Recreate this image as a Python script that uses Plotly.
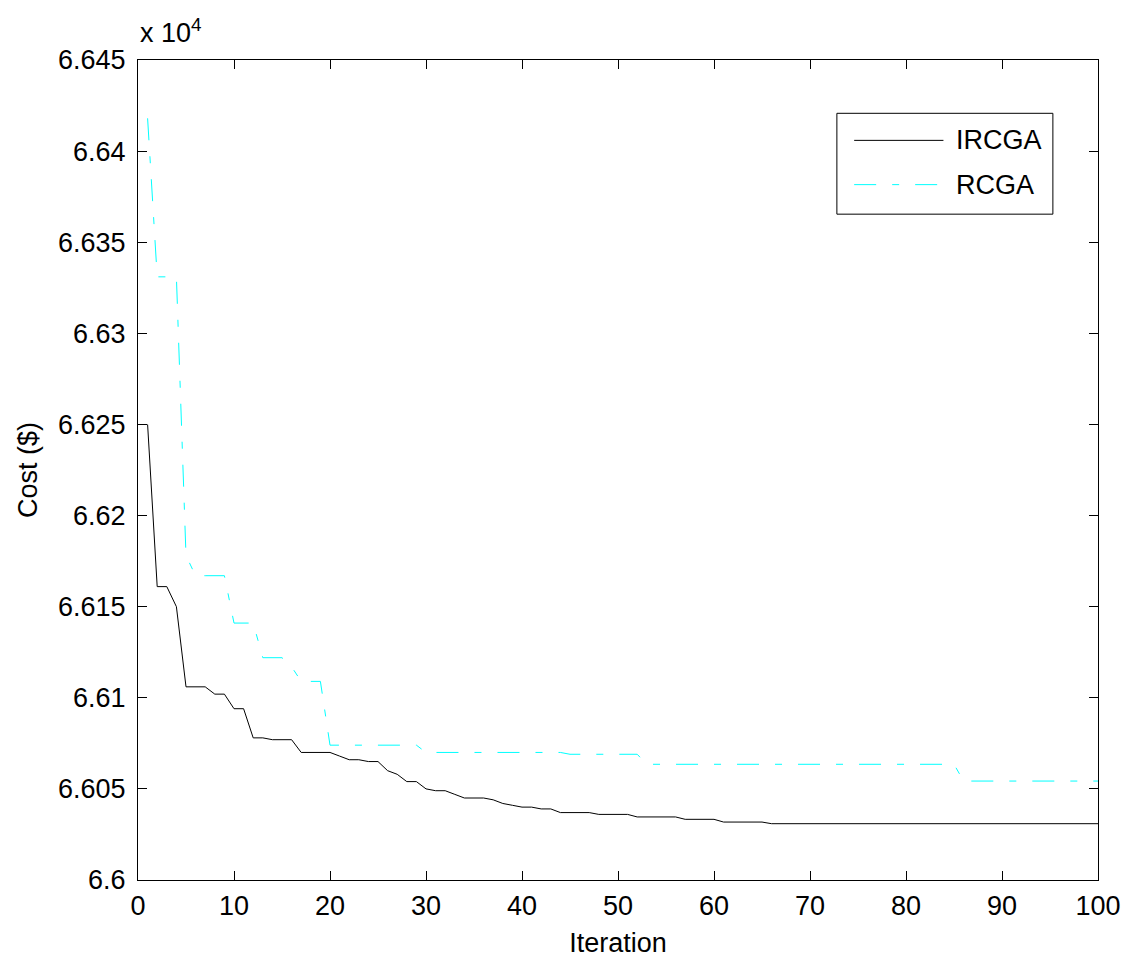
import plotly.graph_objects as go

iterations = list(range(1, 101))

ircga = [
    6.6250, 6.6161, 6.6161, 6.6150, 6.6106, 6.6106, 6.6106, 6.6102, 6.6102, 6.6094,
    6.6094, 6.6078, 6.6078, 6.6077, 6.6077, 6.6077, 6.6070, 6.6070, 6.6070, 6.6070,
    6.6068, 6.6066, 6.6066, 6.6065, 6.6065, 6.6060, 6.6058, 6.6054, 6.6054, 6.6050,
    6.6049, 6.6049, 6.6047, 6.6045, 6.6045, 6.6045, 6.6044, 6.6042, 6.6041, 6.6040,
    6.6040, 6.6039, 6.6039, 6.6037, 6.6037, 6.6037, 6.6037, 6.6036, 6.6036, 6.6036,
    6.6036, 6.60346, 6.60346, 6.60346, 6.60346, 6.60346, 6.60333, 6.60333, 6.60333, 6.60333,
    6.60318, 6.60318, 6.60318, 6.60318, 6.60318, 6.60309, 6.60309, 6.60309, 6.60309, 6.60309,
    6.60309, 6.60309, 6.60309, 6.60309, 6.60309, 6.60309, 6.60309, 6.60309, 6.60309, 6.60309,
    6.60309, 6.60309, 6.60309, 6.60309, 6.60309, 6.60309, 6.60309, 6.60309, 6.60309, 6.60309,
    6.60309, 6.60309, 6.60309, 6.60309, 6.60309, 6.60309, 6.60309, 6.60309, 6.60309, 6.60309,
]

rcga = [
    6.6418, 6.6331, 6.6331, 6.6331, 6.6178, 6.6167, 6.6167, 6.6167, 6.6167, 6.6141,
    6.6141, 6.6141, 6.6122, 6.6122, 6.6122, 6.6117, 6.6109, 6.6109, 6.6109, 6.6074,
    6.6074, 6.6074, 6.6074, 6.6074, 6.6074, 6.6074, 6.6074, 6.6074, 6.6074, 6.6070,
    6.6070, 6.6070, 6.6070, 6.6070, 6.6070, 6.6070, 6.6070, 6.6070, 6.6070, 6.6070,
    6.6070, 6.6070, 6.6070, 6.6070, 6.6069, 6.6069, 6.6069, 6.6069, 6.6069, 6.6069,
    6.6069, 6.6069, 6.60635, 6.60635, 6.60635, 6.60635, 6.60635, 6.60635, 6.60635, 6.60635,
    6.60635, 6.60635, 6.60635, 6.60635, 6.60635, 6.60635, 6.60635, 6.60635, 6.60635, 6.60635,
    6.60635, 6.60635, 6.60635, 6.60635, 6.60635, 6.60635, 6.60635, 6.60635, 6.60635, 6.60635,
    6.60635, 6.60635, 6.60635, 6.60635, 6.60635, 6.60543, 6.60543, 6.60543, 6.60543, 6.60543,
    6.60543, 6.60543, 6.60543, 6.60543, 6.60543, 6.60543, 6.60543, 6.60543, 6.60543, 6.60543,
]

y_tickvals = [6.6, 6.605, 6.61, 6.615, 6.62, 6.625, 6.63, 6.635, 6.64, 6.645]
y_ticktext = ["6.6", "6.605", "6.61", "6.615", "6.62", "6.625", "6.63", "6.635", "6.64", "6.645"]
x_tickvals = [0, 10, 20, 30, 40, 50, 60, 70, 80, 90, 100]

FONT = "Liberation Sans, Arial, Helvetica, sans-serif"
FS = 27
DASHDOT = "22px,16px,7px,16px"

fig = go.Figure()
fig.add_trace(go.Scatter(x=iterations, y=ircga, mode="lines", name="IRCGA",
                         line=dict(color="black", width=1)))
fig.add_trace(go.Scatter(x=iterations, y=rcga, mode="lines", name="RCGA",
                         line=dict(color="#00FFFF", width=1, dash=DASHDOT)))

axis_common = dict(showline=True, linecolor="black", linewidth=1, mirror="allticks",
                   ticks="inside", ticklen=9, tickcolor="black", tickwidth=1,
                   showgrid=False, zeroline=False, automargin=False,
                   tickfont=dict(family=FONT, size=FS, color="black"))

fig.update_xaxes(range=[0, 100], tickvals=x_tickvals, **axis_common,
                 ticklabelstandoff=2,
                 title=dict(text="Iteration", font=dict(family=FONT, size=FS, color="black"), standoff=12))
fig.update_yaxes(range=[6.6, 6.645], tickvals=y_tickvals, ticktext=y_ticktext, **axis_common,
                 ticklabelstandoff=6,
                 title=dict(text="Cost ($)", font=dict(family=FONT, size=FS, color="black"), standoff=12))

# manual legend (box, sample lines, labels)
lx0, lx1, ly0, ly1 = 0.728, 0.953, 0.812, 0.935
fig.add_shape(type="rect", xref="paper", yref="paper", x0=lx0, x1=lx1, y0=ly0, y1=ly1,
              line=dict(color="black", width=1), fillcolor="white", layer="above")
fig.add_shape(type="line", xref="paper", yref="paper", x0=0.746, x1=0.839, y0=0.902, y1=0.902,
              line=dict(color="black", width=1))
fig.add_shape(type="line", xref="paper", yref="paper", x0=0.746, x1=0.839, y0=0.848, y1=0.848,
              line=dict(color="#00FFFF", width=1, dash=DASHDOT))
fig.add_annotation(xref="paper", yref="paper", x=0.850, y=0.902, text="IRCGA", showarrow=False,
                   xanchor="left", yanchor="middle", font=dict(family=FONT, size=FS, color="black"))
fig.add_annotation(xref="paper", yref="paper", x=0.850, y=0.848, text="RCGA", showarrow=False,
                   xanchor="left", yanchor="middle", font=dict(family=FONT, size=FS, color="black"))

# exponent label
fig.add_annotation(xref="paper", yref="paper", x=0.0, y=1.0, yshift=10, text="x 10<sup>4</sup>",
                   showarrow=False, xanchor="left", yanchor="bottom",
                   font=dict(family=FONT, size=FS, color="black"))

fig.update_layout(width=1126, height=964, showlegend=False,
                  margin=dict(l=138, r=28, t=60, b=84),
                  plot_bgcolor="white", paper_bgcolor="white",
                  font=dict(family=FONT, size=FS, color="black"))

fig.write_html("out.html")
